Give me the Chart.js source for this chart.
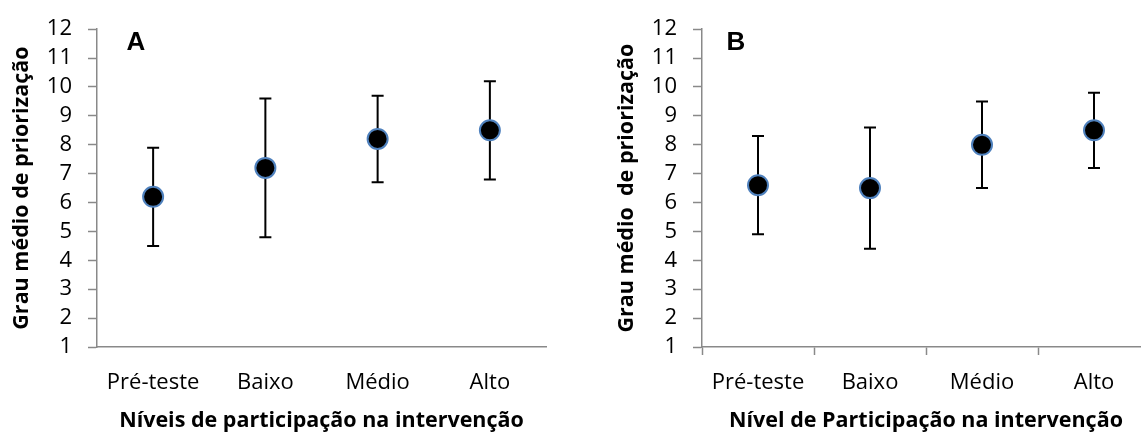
<!DOCTYPE html>
<html lang="pt">
<head>
  <meta charset="UTF-8">
  <title>Grau médio de priorização</title>
  <script src="https://cdn.jsdelivr.net/npm/chart.js"></script>
  <style>
    html, body { margin: 0; padding: 0; background: #fff; overflow: hidden; }
    #chartA { position: absolute; left: 0; top: 0; }
    #chartB { position: absolute; left: 570px; top: 0; }
  </style>
</head>
<body>
  <canvas id="chartA" width="570" height="434"></canvas>
  <canvas id="chartB" width="592" height="434"></canvas>

  <script>
    const categorias = ['Pré-teste', 'Baixo', 'Médio', 'Alto'];

    // painel A
    const mediaA = [6.2, 7.2, 8.2, 8.5];
    const superiorA = [7.9, 9.6, 9.7, 10.2];
    const inferiorA = [4.5, 4.8, 6.7, 6.8];

    // painel B
    const mediaB = [6.6, 6.5, 8.0, 8.5];
    const superiorB = [8.3, 8.6, 9.5, 9.8];
    const inferiorB = [4.9, 4.4, 6.5, 7.2];

    const eixoCor = '#898989';

    // desenha as barras de erro antes dos pontos
    const errorBars = {
      id: 'errorBars',
      beforeDatasetsDraw(chart) {
        const { ctx, scales: { x, y } } = chart;
        chart.data.datasets.forEach(ds => {
          ctx.save();
          ctx.strokeStyle = '#000';
          ctx.lineWidth = 2;
          ds.data.forEach((v, i) => {
            const px = x.getPixelForValue(i);
            const top = y.getPixelForValue(ds.errHigh[i]);
            const bot = y.getPixelForValue(ds.errLow[i]);
            ctx.beginPath();
            ctx.moveTo(px, top); ctx.lineTo(px, bot);
            ctx.moveTo(px - 6, top); ctx.lineTo(px + 6, top);
            ctx.moveTo(px - 6, bot); ctx.lineTo(px + 6, bot);
            ctx.stroke();
          });
          ctx.restore();
        });
      }
    };

    // letra do painel (A / B)
    const panelLabel = {
      id: 'panelLabel',
      afterDraw(chart, args, opts) {
        const { ctx, chartArea } = chart;
        ctx.save();
        ctx.font = "bold 26px 'Liberation Sans'";
        ctx.fillStyle = '#000';
        ctx.textAlign = 'center';
        ctx.textBaseline = 'middle';
        ctx.fillText(opts.text, chartArea.left + opts.dx, chartArea.top + opts.dy);
        ctx.restore();
      }
    };

    function makeChart(id, letra, media, sup, inf, yTitle, xTitle, padLeft, showXTicks) {
      return new Chart(document.getElementById(id), {
        type: 'line',
        data: {
          labels: categorias,
          datasets: [{
            data: media,
            errHigh: sup,
            errLow: inf,
            showLine: false,
            pointRadius: 10,
            pointHoverRadius: 10,
            pointBackgroundColor: '#000',
            pointBorderColor: '#4f81bd',
            pointBorderWidth: 2
          }]
        },
        options: {
          responsive: false,
          animation: false,
          events: [],
          layout: { padding: { left: padLeft, right: letra === 'A' ? 24 : 0, top: 24, bottom: 0 } },
          plugins: {
            legend: { display: false },
            tooltip: { enabled: false },
            panelLabel: { text: letra, dx: letra === 'A' ? 39 : 34, dy: 14 }
          },
          scales: {
            x: {
              offset: true,
              afterFit: s => { s.height = 87; },
              grid: {
                offset: true,
                drawOnChartArea: false,
                tickLength: 8,
                tickColor: showXTicks ? eixoCor : 'transparent',
                tickWidth: 1.5
              },
              border: { color: eixoCor, width: 1.5 },
              ticks: { color: '#000', padding: 15, font: { size: 22 } },
              title: {
                display: true,
                text: xTitle,
                color: '#000',
                font: { size: 21.5, weight: 'bold' },
                padding: { top: 0, bottom: 0 }
              }
            },
            y: {
              min: 1,
              max: 12,
              afterFit: s => { s.width = 88; },
              grid: {
                drawOnChartArea: false,
                tickLength: 9,
                tickColor: eixoCor,
                tickWidth: 1.5
              },
              border: { color: eixoCor, width: 1.5 },
              ticks: { stepSize: 1, autoSkip: false, color: '#000', padding: 16, font: { size: 22 } },
              title: {
                display: true,
                text: yTitle,
                color: '#000',
                font: { size: 21.5, weight: 'bold' },
                padding: { top: 0, bottom: 0 }
              }
            }
          }
        },
        plugins: [errorBars, panelLabel]
      });
    }

    Chart.defaults.font.family = "'Open Sans', 'DejaVu Sans', sans-serif";

    Promise.all([
      document.fonts.load("22px 'Open Sans'"),
      document.fonts.load("bold 21.5px 'Open Sans'"),
      document.fonts.load("bold 26px 'Liberation Sans'")
    ]).catch(() => {}).then(() => {
      makeChart('chartA', 'A', mediaA, superiorA, inferiorA,
        'Grau médio de priorização', 'Níveis de participação na intervenção', 9, false);
      makeChart('chartB', 'B', mediaB, superiorB, inferiorB,
        'Grau médio  de priorização', 'Nível de Participação na intervenção', 44, true);
    });
  </script>
</body>
</html>
